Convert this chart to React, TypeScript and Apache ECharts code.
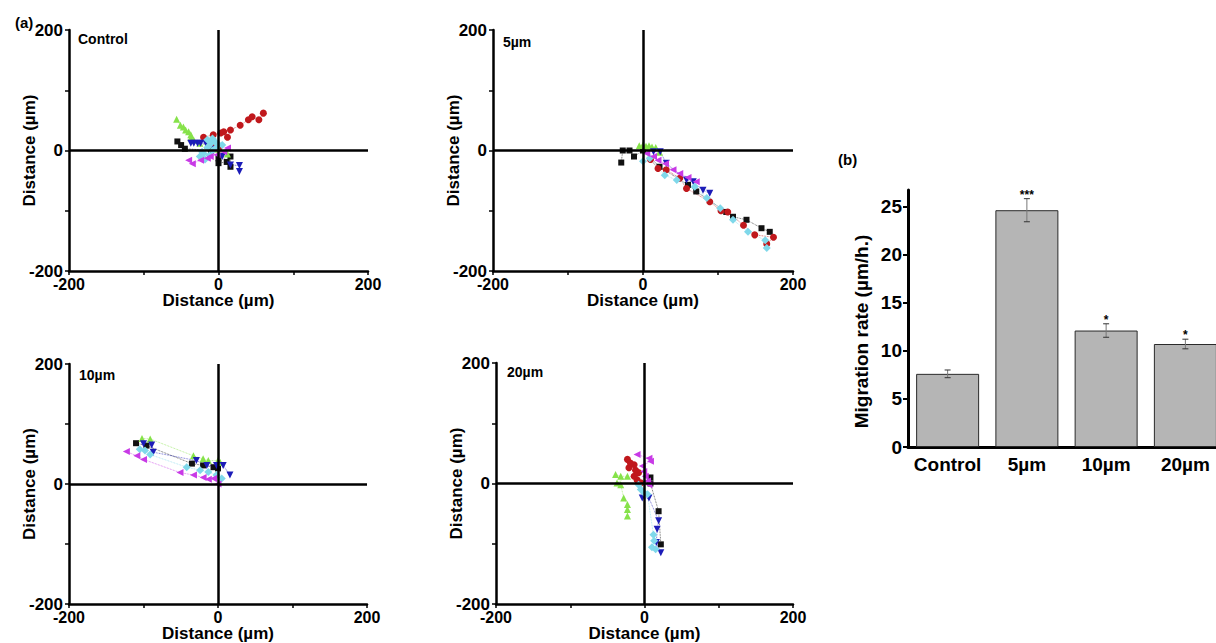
import React, { useEffect, useRef } from "react";
import * as echarts from "echarts";

type Pt = [number, number];

// ---------- Panel (a): cell tracks (µm) ----------
const ctrlBlack: Pt[] = [[-55, 15], [-50, 9], [-45, 3], [-10, 0], [0, -13], [0, -21], [11, -19], [16, -10], [16, -27]];
const ctrlRed: Pt[] = [[0, 2], [-5, 12], [-20, 22], [-7, 26], [3, 29], [7, 31], [12, 22], [16, 34], [29, 42], [40, 51], [45, 56], [54, 51], [60, 62]];
const ctrlGreen: Pt[] = [[12, -6], [0, 2], [-15, 8], [-25, 12], [-33, 17], [-37, 21], [-37, 26], [-40, 31], [-44, 34], [-47, 39], [-51, 42], [-56, 52]];
const ctrlBlue: Pt[] = [[28, -35], [28, -25], [16, -24], [5, -10], [-5, 2], [-17, 12], [-24, 12], [-28, 12], [-33, 12], [-37, 12]];
const ctrlCyan: Pt[] = [[5, 9], [0, 10], [-5, 15], [-8, 20], [-15, 18], [-10, 12], [-15, 5], [-8, 0], [-3, 5], [-12, -8], [-20, -5], [-25, -10], [-18, -15], [-22, -2]];
const ctrlMagenta: Pt[] = [[12, 4], [7, -2], [-2, -7], [-11, -10], [-15, -13], [-24, -16], [-35, -22], [-40, -16]];

const d5Black: Pt[] = [[-29, -20], [-27, 0], [-18, 0], [-12, -10], [0, 0], [22, -27], [60, -57], [71, -68], [111, -102], [120, -110], [138, -115], [158, -129], [169, -135]];
const d5Red: Pt[] = [[10, -15], [20, -30], [31, -32], [49, -46], [58, -63], [89, -85], [104, -100], [113, -102], [134, -124], [149, -140], [174, -144], [165, -155]];
const d5Green: Pt[] = [[-5, 8], [0, 9], [4, 7], [8, 8], [12, 6], [17, 5], [22, -3]];
const d5Blue: Pt[] = [[14, -2], [23, -2], [31, -21], [58, -49], [67, -52], [80, -66], [89, -71]];
const d5Cyan: Pt[] = [[0, -18], [9, -13], [29, -41], [45, -49], [69, -60], [85, -79], [103, -96], [120, -115], [140, -135], [163, -149], [165, -162]];
const d5Magenta: Pt[] = [[5, -5], [14, -10], [20, -16], [30, -22], [40, -32], [49, -38], [60, -45], [71, -52]];

const d10Black: Pt[] = [[0, 26], [-6, 28], [-20, 31], [-35, 34], [-96, 64], [-110, 68]];
const d10Red: Pt[] = [];
const d10Green: Pt[] = [[3, 36], [0, 39], [-13, 39], [-20, 42], [-33, 47], [-91, 75], [-102, 76]];
const d10Blue: Pt[] = [[16, 15], [7, 31], [-2, 31], [-15, 31], [-29, 39], [-87, 53], [-89, 65], [-100, 67]];
const d10Cyan: Pt[] = [[5, 9], [-2, 15], [-13, 20], [-24, 23], [-42, 28], [-91, 49], [-98, 56], [-105, 58]];
const d10Magenta: Pt[] = [[0, 0], [-6, 9], [-13, 8], [-20, 11], [-33, 15], [-51, 19], [-100, 41], [-109, 47], [-123, 54]];

const d20Black: Pt[] = [[8, 10], [8, 0], [19, -46], [22, -101]];
const d20Red: Pt[] = [[-5, 1], [-10, 6], [-14, 12], [-8, 18], [-12, 22], [-21, 26], [-14, 31], [-19, 34], [-23, 40]];
const d20Green: Pt[] = [[-39, 15], [-32, 12], [-23, 12], [-37, 1], [-32, -2], [-28, -24], [-23, -35], [-23, -43], [-23, -54]];
const d20Blue: Pt[] = [[-3, -24], [6, -24], [19, -62], [17, -76], [16, -98], [22, -115]];
const d20Cyan: Pt[] = [[-8, -2], [-5, -10], [-1, -15], [4, -18], [12, -85], [13, -95], [10, -106], [15, -109]];
const d20Magenta: Pt[] = [[6, -2], [4, 4], [1, 12], [-1, 20], [-3, 29], [8, 37], [6, 42], [-10, 48]];

const panelNames = ["Control", "5µm", "10µm", "20µm"];
const panelTracks = [
  [ctrlBlack, ctrlRed, ctrlGreen, ctrlBlue, ctrlCyan, ctrlMagenta],
  [d5Black, d5Red, d5Green, d5Blue, d5Cyan, d5Magenta],
  [d10Black, d10Red, d10Green, d10Blue, d10Cyan, d10Magenta],
  [d20Black, d20Red, d20Green, d20Blue, d20Cyan, d20Magenta],
];
const distTicks = [-200, 0, 200];

// ---------- Panel (b): migration rate ----------
const barCategories = ["Control", "5µm", "10µm", "20µm"];
const barValues = [7.6, 24.6, 12.1, 10.7];
const barErrors = [0.4, 1.2, 0.7, 0.5];
const barStars = ["", "***", "*", "*"];

const FONT = "Arial, 'Liberation Sans', sans-serif";

const trackStyles = [
  { color: "#111111", symbol: "rect", rotate: 0, size: 6 },
  { color: "#c0181c", symbol: "circle", rotate: 0, size: 7 },
  { color: "#86e24a", symbol: "triangle", rotate: 0, size: 7 },
  { color: "#1c1cb8", symbol: "triangle", rotate: 180, size: 7 },
  { color: "#7fd8ea", symbol: "diamond", rotate: 0, size: 8 },
  { color: "#c83ae6", symbol: "triangle", rotate: 90, size: 7 },
];

const panelLayouts = [
  { left: 69, top: 30, width: 299, height: 241 },
  { left: 493, top: 30, width: 300, height: 241 },
  { left: 69, top: 364, width: 298, height: 243 },
  { left: 496, top: 363, width: 297, height: 242 },
];
const panelTitlePos = [
  { left: 78, top: 32 },
  { left: 503, top: 35 },
  { left: 79, top: 368 },
  { left: 507, top: 365 },
];

function buildOption() {
  const grid: any[] = [];
  const xAxis: any[] = [];
  const yAxis: any[] = [];
  const series: any[] = [];
  const title: any[] = [];

  const labelStyle = { color: "#000", fontWeight: "bold", fontSize: 16, fontFamily: FONT };
  const nameStyle = { color: "#000", fontWeight: "bold", fontSize: 17, fontFamily: FONT };
  const fmt = (v: number) => (distTicks.indexOf(v) >= 0 ? String(v) : "");

  panelLayouts.forEach((lay, p) => {
    grid.push({ ...lay, containLabel: false });
    xAxis.push({
      gridIndex: p, type: "value", min: -200, max: 200, interval: 100,
      axisLine: { show: true, onZero: false, lineStyle: { color: "#000", width: 2.5 } },
      axisTick: { show: true, length: 4, lineStyle: { color: "#000", width: 1.5 } },
      axisLabel: { ...labelStyle, margin: 7, lineHeight: 12, formatter: fmt },
      splitLine: { show: false },
      name: "Distance (µm)", nameLocation: "middle", nameGap: 21, nameMoveOverlap: false,
      nameTextStyle: { ...nameStyle, lineHeight: 17 },
    });
    yAxis.push({
      gridIndex: p, type: "value", min: -200, max: 200, interval: 100,
      axisLine: { show: true, onZero: false, lineStyle: { color: "#000", width: 2.5 } },
      axisTick: { show: true, length: 4, lineStyle: { color: "#000", width: 1.5 } },
      axisLabel: { ...labelStyle, fontSize: 17, lineHeight: 12, margin: 6, formatter: fmt },
      splitLine: { show: false },
      name: "Distance (µm)", nameLocation: "middle", nameGap: 31, nameMoveOverlap: false,
      nameTextStyle: nameStyle,
    });
    series.push({
      type: "line", xAxisIndex: p, yAxisIndex: p, data: [], z: 1, silent: true,
      markLine: {
        silent: true, symbol: "none", label: { show: false },
        lineStyle: { color: "#000", width: 2.5, type: "solid" },
        data: [{ xAxis: 0 }, { yAxis: 0 }],
      },
    });
    panelTracks[p].forEach((track, k) => {
      const st = trackStyles[k];
      series.push({
        type: "line", xAxisIndex: p, yAxisIndex: p, z: 3,
        data: track,
        symbol: st.symbol, symbolSize: st.size, symbolRotate: st.rotate,
        showSymbol: true,
        itemStyle: { color: st.color },
        lineStyle: { color: st.color, width: 0.8, type: "dotted", opacity: 0.8 },
      });
    });
    title.push({
      text: panelNames[p], ...panelTitlePos[p], padding: 0,
      textStyle: { color: "#000", fontWeight: "bold", fontSize: 14, fontFamily: FONT },
    });
  });

  title.push({ text: "(a)", left: 15, top: 15, padding: 0, textStyle: { color: "#000", fontWeight: "bold", fontSize: 15, fontFamily: FONT } });
  title.push({ text: "(b)", left: 838, top: 152, padding: 0, textStyle: { color: "#000", fontWeight: "bold", fontSize: 15, fontFamily: FONT } });

  // Bar chart grid (extends past the right edge, as in the original figure)
  const bi = panelLayouts.length;
  grid.push({ left: 908, top: 190, width: 317, height: 257, containLabel: false });
  xAxis.push({
    gridIndex: bi, type: "category", data: barCategories,
    axisLine: { show: true, lineStyle: { color: "#000", width: 3 } },
    axisTick: { show: false },
    axisLabel: { color: "#000", fontWeight: "bold", fontSize: 19, fontFamily: FONT, margin: 8, interval: 0 },
  });
  yAxis.push({
    gridIndex: bi, type: "value", min: 0, max: 26.7, interval: 5,
    axisLine: { show: true, lineStyle: { color: "#000", width: 3 } },
    axisTick: { show: true, length: 5, lineStyle: { color: "#000", width: 2 } },
    axisLabel: { color: "#000", fontWeight: "bold", fontSize: 19, fontFamily: FONT, margin: 6, showMaxLabel: false },
    splitLine: { show: false },
    name: "Migration rate (µm/h.)", nameLocation: "middle", nameGap: 37, nameMoveOverlap: false,
    nameTextStyle: { color: "#000", fontWeight: "bold", fontSize: 19, fontFamily: FONT, padding: [0, 26, 0, 0] },
  });
  series.push({
    type: "bar", xAxisIndex: bi, yAxisIndex: bi, data: barValues, barWidth: 63,
    itemStyle: { color: "#b5b5b5", borderColor: "#2a2a2a", borderWidth: 1 },
    z: 2,
  });
  series.push({
    type: "custom", xAxisIndex: bi, yAxisIndex: bi, z: 4,
    data: barValues.map((v, i) => [i, v, barErrors[i]]),
    renderItem: (params: any, api: any) => {
      const i = api.value(0);
      const v = api.value(1);
      const e = api.value(2);
      const top = api.coord([i, v + e]);
      const bot = api.coord([i, v - e]);
      const cw = 3;
      const ls = { stroke: "#333", lineWidth: 1 };
      return {
        type: "group",
        children: [
          { type: "line", shape: { x1: top[0], y1: top[1], x2: bot[0], y2: bot[1] }, style: { stroke: "#777", lineWidth: 1 } },
          { type: "line", shape: { x1: top[0] - cw, y1: top[1], x2: top[0] + cw, y2: top[1] }, style: ls },
          { type: "line", shape: { x1: bot[0] - cw, y1: bot[1], x2: bot[0] + cw, y2: bot[1] }, style: ls },
          {
            type: "text",
            style: {
              text: barStars[i], x: top[0], y: top[1] - 4,
              align: "center", verticalAlign: "middle",
              fontSize: 12, fontWeight: "bold", fontFamily: FONT, fill: "#000",
            },
          },
        ],
      };
    },
  });

  return {
    animation: false,
    backgroundColor: "#ffffff",
    title, grid, xAxis, yAxis, series,
  };
}

export default function App() {
  const ref = useRef<HTMLDivElement>(null);
  useEffect(() => {
    if (!ref.current) return;
    const chart = echarts.init(ref.current, undefined, { renderer: "svg" });
    chart.setOption(buildOption() as any);
    return () => chart.dispose();
  }, []);
  return (
    <div style={{ position: "absolute", left: 0, top: 0, width: 1216, height: 643, overflow: "hidden", background: "#fff" }}>
      <div ref={ref} style={{ width: 1230, height: 643 }} />
    </div>
  );
}
